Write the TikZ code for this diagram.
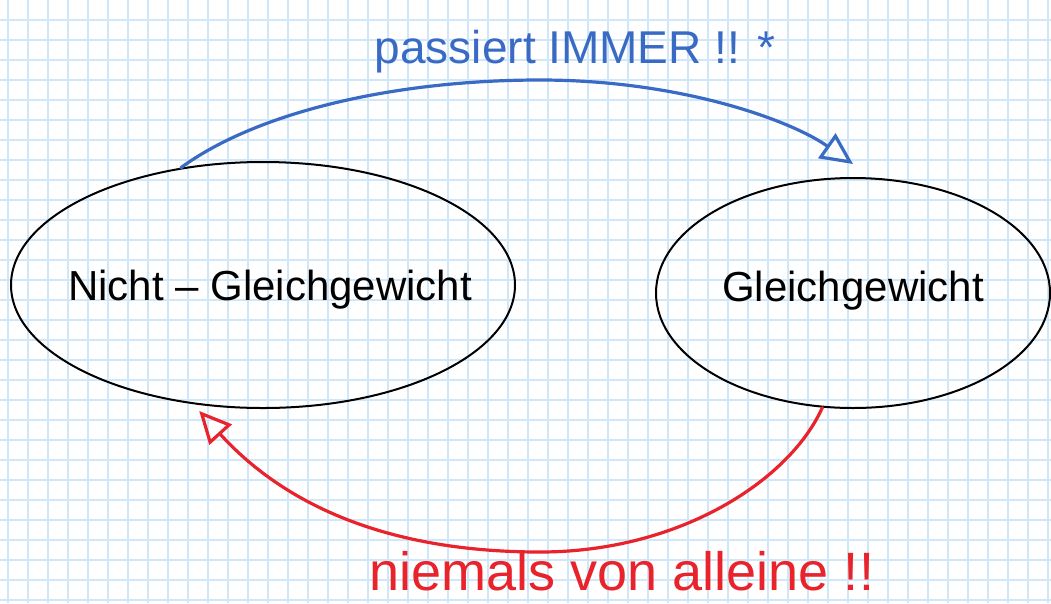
\documentclass[tikz,border=0pt]{standalone}
\usepackage{fontspec}
\setmainfont{Liberation Sans}
\usetikzlibrary{shapes.geometric,arrows.meta}
\definecolor{gridblue}{HTML}{CFE7F9}
\definecolor{penblue}{HTML}{3A6BC4}
\definecolor{penred}{HTML}{E8232B}
\tikzset{
  state/.style={ellipse, draw=black, line width=2pt, inner sep=0pt},
  statetext/.style={inner sep=0pt, font=\fontsize{42}{48}\selectfont},
  bluearrow/.style={draw=penblue, line width=3.2pt, line cap=round, -{Triangle[open, length=32pt, width=30pt, line width=3.2pt]}},
  redarrow/.style={draw=penred, line width=3.2pt, line cap=round, -{Triangle[open, length=32pt, width=30pt, line width=3.2pt]}},
  bluetext/.style={text=penblue, anchor=base, inner sep=0pt, font=\fontsize{46}{52}\selectfont},
  redtext/.style={text=penred, anchor=base, inner sep=0pt, font=\fontsize{54}{60}\selectfont},
}
\begin{document}
\begin{tikzpicture}[x=1pt, y=-1pt]
\useasboundingbox (0,0) rectangle (1051,603);
\fill[white] (0,0) rectangle (1051,603);
% grid paper
\foreach \gx in {0,...,52} {\draw[gridblue, line width=2pt] (8+20*\gx,0) -- (8+20*\gx,603);}
\foreach \gy in {0,...,29} {\draw[gridblue, line width=2pt] (0,19.5+20*\gy) -- (1051,19.5+20*\gy);}
% states
\node[state, minimum width=504pt, minimum height=246pt] (neq) at (263,285) {};
\node[state, minimum width=394pt, minimum height=230pt] (eq) at (853,293) {};
\node[statetext] (neqtext) at ([xshift=7pt, yshift=-5pt]neq.center) {Nicht – Gleichgewicht};
\node[statetext] (eqtext) at ([yshift=2pt]eq.center) {Gleichgewicht};
% connectors
\coordinate (bstart) at (neq.125);
\coordinate (bend) at ([yshift=13pt]eq.north);
\coordinate (rstart) at (eq.255);
\coordinate (rend) at ([yshift=-6pt]neq.242);
\draw[bluearrow] (bstart) .. controls (260,110) and (400,80) .. (540,80) .. controls (680,80) and (790,120) .. (bend);
\draw[redarrow] (rstart) .. controls (790,480) and (680,552) .. (540,552) .. controls (380,552) and (280,500) .. (rend);
% labels
\node[bluetext] (lblue) at (575,63) {passiert IMMER !! *};
\node[redtext] (lred) at (622,590) {niemals von alleine !!};
\end{tikzpicture}
\end{document}
